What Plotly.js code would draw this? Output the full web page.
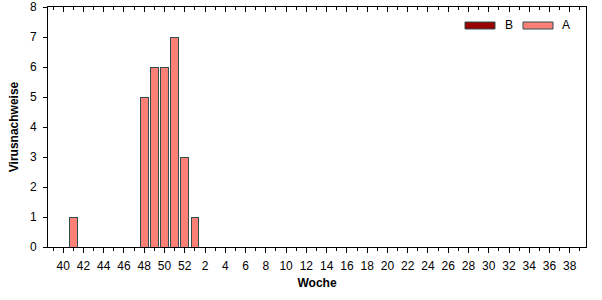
<!DOCTYPE html>
<html>
<head>
<meta charset="utf-8">
<script src="https://cdn.plot.ly/plotly-3.0.1.min.js"></script>
<style>html,body{margin:0;padding:0;background:#fff;}#chart{width:602px;height:300px;}</style>
</head>
<body>
<div id="chart"></div>
<script>
// Weeks of the season (40..52, then 1..39)
const weeks = ["40","41","42","43","44","45","46","47","48","49","50","51","52",
  "1","2","3","4","5","6","7","8","9","10","11","12","13","14","15","16","17","18","19","20",
  "21","22","23","24","25","26","27","28","29","30","31","32","33","34","35","36","37","38","39"];
const seriesNames = ["B","A"];
const valuesB = [0,0,0,0,0,0,0,0,0,0,0,0,0, 0,0,0,0,0,0,0,0,0,0,0,0,0,0,0,0,0,0,0,0,0,0,0,0,0,0,0,0,0,0,0,0,0,0,0,0,0,0,0];
const valuesA = [0,1,0,0,0,0,0,0,5,6,6,7,3, 1,0,0,0,0,0,0,0,0,0,0,0,0,0,0,0,0,0,0,0,0,0,0,0,0,0,0,0,0,0,0,0,0,0,0,0,0,0,0];
const tickWeeks = ["40","42","44","46","48","50","52","2","4","6","8","10","12","14","16","18","20","22","24","26","28","30","32","34","36","38"];
const yTicks = [0,1,2,3,4,5,6,7,8];

const colorB = "#990000", colorA = "#FC8076", edge = "#2F4F4F";
const idx = weeks.map((w,i)=>i);
const majorVals = tickWeeks.map(w=>weeks.indexOf(w));
const minorVals = [];
for (let i=-1;i<weeks.length;i+=2) minorVals.push(i);

const traces = [
  {type:"bar", name:seriesNames[0], x:idx, y:valuesB, marker:{color:colorB, line:{color:edge,width:1}}, showlegend:false, hoverinfo:"skip"},
  {type:"bar", name:seriesNames[1], x:idx, y:valuesA, marker:{color:colorA, line:{color:edge,width:1}}, showlegend:false},
  // empty helper trace so the top (mirror) tick axis is drawn
  {type:"scatter", mode:"markers", x:[null], y:[null], xaxis:"x2", yaxis:"y", showlegend:false, hoverinfo:"skip"}
];

const font = {family:"Liberation Sans, Arial, sans-serif", size:12, color:"#000"};
const L=48, R=586, T=7, B=247;
const px = v => (v-L)/(R-L), py = v => (B-v)/(B-T);

const layout = {
  width:602, height:300,
  margin:{l:L, r:602-R, t:T, b:300-B},
  paper_bgcolor:"#fff", plot_bgcolor:"#fff",
  barmode:"stack", bargap:0.25,
  font:font,
  xaxis:{range:[-1.5,51.6], tickmode:"array", tickvals:majorVals, ticktext:tickWeeks,
    ticks:"outside", ticklen:5, tickcolor:"#000", showline:true, linecolor:"#000", linewidth:1,
    mirror:true, showgrid:false, zeroline:false, ticklabelstandoff:3,
    minor:{tickmode:"array", tickvals:minorVals, ticks:"outside", ticklen:3, tickcolor:"#000", showgrid:false},
    title:{text:"<b>Woche</b>", font:{family:font.family,size:12,color:"#000"}, standoff:6}, automargin:false},
  xaxis2:{overlaying:"x", side:"top", range:[-1.5,51.6], tickmode:"array", tickvals:majorVals,
    ticks:"inside", ticklen:5, tickcolor:"#000", showticklabels:false, showgrid:false, zeroline:false, showline:false,
    minor:{tickmode:"array", tickvals:minorVals, ticks:"inside", ticklen:3, tickcolor:"#000", showgrid:false}},
  yaxis:{range:[0,8], tickmode:"array", tickvals:yTicks, ticks:"outside", ticklen:4, tickcolor:"#000",
    showline:true, linecolor:"#000", linewidth:1, mirror:true, showgrid:false, zeroline:false, ticklabelstandoff:4,
    title:{text:"<b>Virusnachweise</b>", font:{family:font.family,size:12,color:"#000"}, standoff:8}, automargin:false},
  shapes:[
    {type:"rect", xref:"paper", yref:"paper", x0:px(465), x1:px(495), y0:py(29), y1:py(22), fillcolor:colorB, line:{color:edge,width:1}},
    {type:"rect", xref:"paper", yref:"paper", x0:px(523), x1:px(553), y0:py(29), y1:py(22), fillcolor:colorA, line:{color:edge,width:1}}
  ],
  annotations:[
    {xref:"paper", yref:"paper", x:px(509), y:py(25.5), text:seriesNames[0], showarrow:false, xanchor:"center", yanchor:"middle", font:font},
    {xref:"paper", yref:"paper", x:px(566), y:py(25.5), text:seriesNames[1], showarrow:false, xanchor:"center", yanchor:"middle", font:font}
  ]
};
Plotly.newPlot("chart", traces, layout, {staticPlot:true, displayModeBar:false});
</script>
</body>
</html>
